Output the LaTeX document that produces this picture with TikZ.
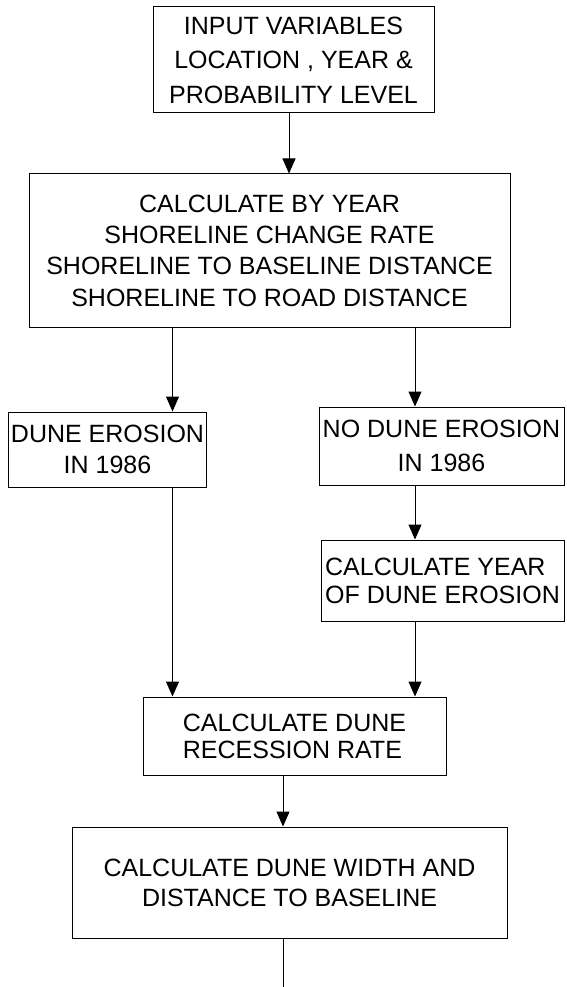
\documentclass[tikz,border=0pt]{standalone}
\usepackage{fontspec}
\setmainfont{Liberation Sans}
\usetikzlibrary{arrows.meta}
\begin{document}
\begin{tikzpicture}[x=1pt,y=-1pt,
  box/.style={draw, line width=1pt, rectangle, inner sep=2pt, align=center},
  arr/.style={line width=1pt, -{Triangle[width=13pt,length=15pt]}},
  ln/.style={line width=1pt}]
\useasboundingbox (0,0) rectangle (566,987);
\fill[white] (0,0) rectangle (566,987);
\node[box, minimum width=281, minimum height=106, font=\fontsize{25}{34.5}\selectfont] (inp) at (293.5,60)
  {INPUT VARIABLES\\LOCATION , YEAR \&\\PROBABILITY LEVEL};
\node[box, minimum width=481, minimum height=153, font=\fontsize{25}{31.3}\selectfont] (calc) at (269.5,250.5)
  {CALCULATE BY YEAR\\SHORELINE CHANGE RATE\\SHORELINE TO BASELINE DISTANCE\\SHORELINE TO ROAD DISTANCE};
\node[box, minimum width=191, minimum height=75, font=\fontsize{25}{31}\selectfont] (de) at (107.5,449.5)
  {DUNE EROSION\\IN 1986};
\node[box, minimum width=245, minimum height=78, font=\fontsize{25}{34}\selectfont] (nde) at (441.5,446)
  {NO DUNE EROSION\\IN 1986};
\node[box, align=left, minimum width=243, minimum height=81, font=\fontsize{25}{28}\selectfont] (cy) at (442.5,580.5)
  {CALCULATE YEAR\\OF DUNE EROSION};
\node[box, align=left, minimum width=303, minimum height=78, font=\fontsize{25}{27}\selectfont] (rr) at (294.5,736)
  {CALCULATE DUNE\\RECESSION RATE};
\node[box, minimum width=435, minimum height=111, font=\fontsize{25}{30}\selectfont] (fin) at (289.5,882.5)
  {CALCULATE DUNE WIDTH AND\\DISTANCE TO BASELINE};
\coordinate (a1) at (289,0);
\coordinate (aL) at (172.5,0);
\coordinate (aR) at (415,0);
\coordinate (aB) at (283,0);
\coordinate (end) at (283,987);
\draw[arr] (inp.south -| a1) -- (calc.north -| a1);
\draw[arr] (calc.south -| aL) -- (de.north -| aL);
\draw[arr] (calc.south -| aR) -- (nde.north -| aR);
\draw[arr] (nde.south -| aR) -- (cy.north -| aR);
\draw[arr] (de.south -| aL) -- (rr.north -| aL);
\draw[arr] (cy.south -| aR) -- (rr.north -| aR);
\draw[arr] (rr.south -| aB) -- (fin.north -| aB);
\draw[ln] (fin.south -| aB) -- (end);
\end{tikzpicture}
\end{document}
